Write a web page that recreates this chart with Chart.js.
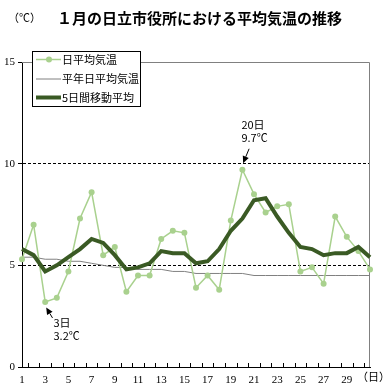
<!DOCTYPE html>
<html lang="ja">
<head>
<meta charset="utf-8">
<title>1月の日立市役所における平均気温の推移</title>
<script src="https://cdn.jsdelivr.net/npm/chart.js@4.4.1/dist/chart.umd.min.js"></script>
<style>
  html, body { margin: 0; padding: 0; background: #fff; }
  #wrap { width: 390px; height: 390px; }
</style>
</head>
<body>
<div id="wrap"><canvas id="chart" width="390" height="390"></canvas></div>
<script>
// Data (deg C)
const days = ['1','2','3','4','5','6','7','8','9','10','11','12','13','14','15','16',
              '17','18','19','20','21','22','23','24','25','26','27','28','29','30','31'];
const dailyMean = [5.3, 7.0, 3.2, 3.4, 4.7, 7.3, 8.6, 5.5, 5.9, 3.7, 4.5, 4.5, 6.3, 6.7, 6.6, 3.9,
                   4.5, 3.8, 7.2, 9.7, 8.5, 7.6, 7.9, 8.0, 4.7, 4.9, 4.1, 7.4, 6.4, 5.7, 4.8];
const normalMean = [5.4, 5.4, 5.3, 5.3, 5.2, 5.2, 5.1, 5.0, 4.9, 4.9, 4.8, 4.8, 4.8, 4.7, 4.7, 4.6,
                    4.6, 4.6, 4.6, 4.6, 4.5, 4.5, 4.5, 4.5, 4.5, 4.5, 4.5, 4.5, 4.5, 4.5, 4.5];
const movingAvg = [5.8, 5.5, 4.7, 5.0, 5.4, 5.8, 6.3, 6.1, 5.5, 4.8, 4.9, 5.1, 5.7, 5.6, 5.6, 5.1,
                   5.2, 5.8, 6.7, 7.3, 8.2, 8.3, 7.4, 6.6, 5.9, 5.8, 5.5, 5.6, 5.6, 5.9, 5.4];
const dayLabels = ['1','3','5','7','9','11','13','15','17','19','21','23','25','27','29'];
const yTicks = [0, 5, 10, 15];
const seriesNames = ['日平均気温', '平年日平均気温', '5日間移動平均'];
const titleText = '１月の日立市役所における平均気温の推移';

const CJK = '"Noto Sans CJK JP", "Noto Sans", sans-serif';
const SERIF = '"Liberation Serif", "DejaVu Serif", serif';
const LIGHT = '#a9d18e';
const DARK = '#3a5a24';
const GRAY = '#808080';

function arrow(ctx, x1, y1, x2, y2) {
    const ang = Math.atan2(y2 - y1, x2 - x1);
    const len = 7, half = 3.2;
    const bx = x2 - Math.cos(ang) * len, by = y2 - Math.sin(ang) * len;
    ctx.strokeStyle = '#000';
    ctx.lineWidth = 1;
    ctx.beginPath();
    ctx.moveTo(x1, y1);
    ctx.lineTo(bx, by);
    ctx.stroke();
    ctx.fillStyle = '#000';
    ctx.beginPath();
    ctx.moveTo(x2, y2);
    ctx.lineTo(bx - Math.sin(ang) * half, by + Math.cos(ang) * half);
    ctx.lineTo(bx + Math.sin(ang) * half, by - Math.cos(ang) * half);
    ctx.closePath();
    ctx.fill();
}

// Callouts: which day, and where the arrow / text sit relative to the point
const callouts = [
    { index: 19, tip: [0.7, -6.5], tail: [6.7, -21], text: [-1, -45], gap: 13 },
    { index: 2, tip: [1, 5.5], tail: [7.3, 16], text: [8.3, 20.5], gap: 13.3 }
];

const decor = {
    id: 'decor',
    beforeDraw(chart) {
        const ctx = chart.ctx;
        ctx.save();
        ctx.fillStyle = '#fff';
        ctx.fillRect(0, 0, chart.width, chart.height);
        ctx.restore();
    },
    beforeDatasetsDraw(chart) {
        const { ctx, chartArea: a, scales: { x } } = chart;
        ctx.save();
        // gray frame on top and right
        ctx.strokeStyle = GRAY;
        ctx.lineWidth = 1;
        ctx.beginPath();
        ctx.moveTo(a.left, a.top + 0.5);
        ctx.lineTo(a.right - 0.5, a.top + 0.5);
        ctx.lineTo(a.right - 0.5, a.bottom);
        ctx.stroke();
        // small tick marks between days, pointing into the plot
        ctx.strokeStyle = '#000';
        ctx.beginPath();
        for (let i = 0; i < days.length - 1; i++) {
            const px = Math.round((x.getPixelForValue(i) + x.getPixelForValue(i + 1)) / 2) + 0.5;
            ctx.moveTo(px, a.bottom);
            ctx.lineTo(px, a.bottom - 4);
        }
        ctx.stroke();
        ctx.restore();
    },
    afterDraw(chart) {
        const { ctx, scales: { x, y } } = chart;
        ctx.save();
        ctx.fillStyle = '#000';
        ctx.textBaseline = 'middle';

        // title
        ctx.font = '11px ' + CJK;
        ctx.textAlign = 'left';
        ctx.fillText('（℃）', 8, 18);
        ctx.font = 'bold 15px ' + CJK;
        ctx.fillText(titleText, 57, 18);

        // x unit
        ctx.font = '11px ' + CJK;
        ctx.fillText('（日）', 357, 377);

        // legend
        const lx = 32, ly = 51, lw = 108, lh = 55;
        ctx.fillStyle = '#fff';
        ctx.fillRect(lx, ly, lw, lh);
        ctx.strokeStyle = '#000';
        ctx.lineWidth = 1;
        ctx.strokeRect(lx + 0.5, ly + 0.5, lw, lh);
        const rows = [59.5, 79, 97.5];
        const styles = [
            { color: LIGHT, width: 1.5, dot: true },
            { color: GRAY, width: 1, dot: false },
            { color: DARK, width: 4, dot: false }
        ];
        ctx.font = '11px ' + CJK;
        rows.forEach((ry, i) => {
            const s = styles[i];
            ctx.strokeStyle = s.color;
            ctx.lineWidth = s.width;
            ctx.beginPath();
            ctx.moveTo(36, ry);
            ctx.lineTo(61, ry);
            ctx.stroke();
            if (s.dot) {
                ctx.fillStyle = s.color;
                ctx.beginPath();
                ctx.arc(49, ry, 3, 0, Math.PI * 2);
                ctx.fill();
            }
            ctx.fillStyle = '#000';
            ctx.fillText(seriesNames[i], 62, ry);
        });

        // callouts
        ctx.font = '11px ' + CJK;
        callouts.forEach(c => {
            const px = x.getPixelForValue(c.index);
            const py = y.getPixelForValue(dailyMean[c.index]);
            arrow(ctx, px + c.tail[0], py + c.tail[1], px + c.tip[0], py + c.tip[1]);
            ctx.fillStyle = '#000';
            ctx.fillText(days[c.index] + '日', px + c.text[0], py + c.text[1]);
            ctx.fillText(dailyMean[c.index].toFixed(1) + '℃', px + c.text[0], py + c.text[1] + c.gap);
        });
        ctx.restore();
    }
};

new Chart(document.getElementById('chart'), {
    type: 'line',
    data: {
        labels: days,
        datasets: [
            {
                label: seriesNames[2],
                data: movingAvg,
                borderColor: DARK,
                borderWidth: 4,
                pointRadius: 0,
                tension: 0,
                order: 0
            },
            {
                label: seriesNames[0],
                data: dailyMean,
                borderColor: LIGHT,
                backgroundColor: LIGHT,
                borderWidth: 1.5,
                pointRadius: 3,
                pointBorderWidth: 0,
                tension: 0,
                order: 1
            },
            {
                label: seriesNames[1],
                data: normalMean,
                borderColor: GRAY,
                borderWidth: 1,
                pointRadius: 0,
                tension: 0,
                order: 2
            }
        ]
    },
    options: {
        responsive: false,
        animation: false,
        events: [],
        layout: { padding: { top: 62, right: 20, left: 0, bottom: 0 } },
        plugins: {
            legend: { display: false },
            tooltip: { enabled: false },
            title: { display: false }
        },
        scales: {
            x: {
                grid: { display: true, drawOnChartArea: false, drawTicks: false, color: 'rgba(0,0,0,0)' },
                border: { display: true, color: '#000', width: 1 },
                ticks: {
                    autoSkip: false,
                    maxRotation: 0,
                    padding: 7,
                    color: '#000',
                    font: { family: SERIF, size: 11 },
                    callback: (val, i) => (dayLabels.includes(days[i]) ? days[i] : '')
                },
                afterFit: s => { s.height = 23; }
            },
            y: {
                min: yTicks[0],
                max: yTicks[yTicks.length - 1],
                afterBuildTicks: s => { s.ticks = yTicks.map(v => ({ value: v })); },
                grid: {
                    color: c => (c.tick && (c.tick.value === 5 || c.tick.value === 10)) ? '#000' : 'rgba(0,0,0,0)',
                    lineWidth: 1,
                    tickColor: '#000',
                    tickLength: 4,
                    tickBorderDash: []
                },
                border: { display: true, color: '#000', width: 1, dash: [3, 2] },
                ticks: {
                    padding: 3,
                    color: '#000',
                    font: { family: SERIF, size: 11 }
                },
                afterFit: s => { s.width = 22; }
            }
        }
    },
    plugins: [decor]
});
</script>
</body>
</html>
